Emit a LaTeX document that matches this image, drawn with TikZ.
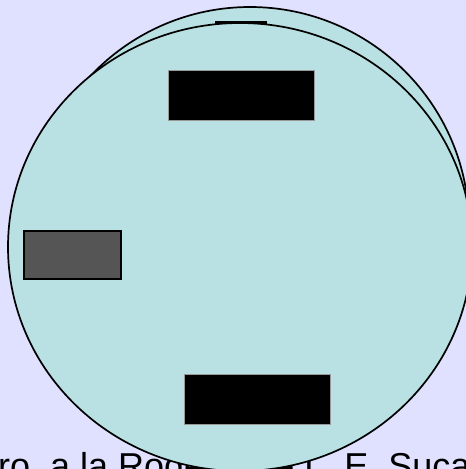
\documentclass[tikz,border=0pt]{standalone}
\usepackage{fontspec}
\setmainfont{Liberation Sans}
\usetikzlibrary{shapes.geometric}
\definecolor{Lavender}{RGB}{224,224,255}
\definecolor{PaleTeal}{RGB}{185,224,226}
\definecolor{DarkGrey}{RGB}{85,85,85}
\tikzset{
  disc/.style={ellipse,draw=black,line width=1.7pt,fill=PaleTeal,inner sep=0pt},
  slab/.style={rectangle,draw=DarkGrey!60,line width=0.6pt,fill=black,inner sep=0pt,minimum width=146pt,minimum height=50pt},
  tab/.style={rectangle,draw=black,line width=1.5pt,fill=DarkGrey,inner sep=0pt,minimum width=97pt,minimum height=48pt},
  credit/.style={font=\fontsize{36}{43}\selectfont,text=black,inner sep=0pt,anchor=base west}
}
\begin{document}
\begin{tikzpicture}[x=1pt,y=-1pt]
  \useasboundingbox (0,0) rectangle (466,469);
  \clip (0,0) rectangle (466,469);
  \fill[Lavender] (0,0) rectangle (466,469);
  \node[credit] (byline) at (-2,478) {ro, a la Rogers, de L. E. Sucar};
  % back and front discs
  \node[disc,minimum width=438pt,minimum height=438pt] (back) at (250,226) {};
  \node[rectangle,draw=black,line width=1.5pt,fill=black,inner sep=0pt,minimum width=50pt,minimum height=18pt] (peek) at (241,31) {};
  \node[disc,minimum width=464pt,minimum height=448pt] (front) at (240,247) {};
  % blocks on the front disc
  \node[slab] (upper) at (241,95) {};
  \node[slab] (lower) at (257,399) {};
  \node[tab] (side) at (72.5,255) {};
\end{tikzpicture}
\end{document}
